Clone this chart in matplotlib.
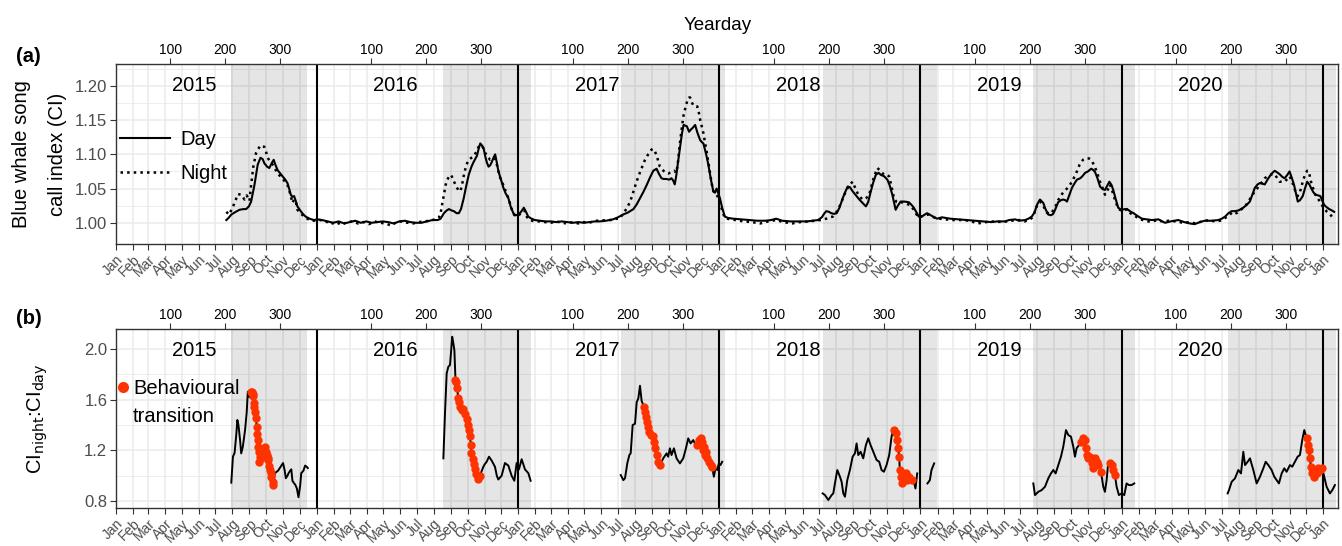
import numpy as np
import pandas as pd
import matplotlib
matplotlib.use('Agg')
import matplotlib.pyplot as plt
import matplotlib.transforms as mtransforms
from matplotlib.lines import Line2D

plt.rcParams['font.family'] = ['Liberation Sans', 'DejaVu Sans']

# x values are days since 2015-01-01
ORIGIN = pd.Timestamp('2015-01-01')

# (a) call index, day
day_series = [
    (201, 1.004), (205, 1.007), (210, 1.012), (218, 1.016), (225, 1.019), (232, 1.020), (237, 1.020),
    (242, 1.024), (246, 1.031), (252, 1.055), (258, 1.085), (263, 1.095), (267, 1.093), (270, 1.087),
    (275, 1.082), (279, 1.080), (284, 1.088), (287, 1.092), (290, 1.085), (294, 1.077), (298, 1.073),
    (303, 1.068), (308, 1.063), (312, 1.058), (315, 1.050), (318, 1.041), (321, 1.038), (324, 1.039),
    (327, 1.032), (330, 1.024), (336, 1.017), (340, 1.013), (345, 1.009), (352, 1.006), (360, 1.004),
    (366, 1.005), (375, 1.004), (385, 1.002), (395, 1.000), (405, 1.002), (415, 0.999), (425, 1.001),
    (435, 1.003), (445, 1.000), (455, 1.002), (465, 1.000), (475, 1.001), (485, 1.002), (495, 1.001),
    (505, 0.999), (515, 1.002), (525, 1.003), (535, 1.001), (545, 1.000), (555, 1.000), (565, 1.002),
    (575, 1.004), (585, 1.004), (590, 1.006), (596, 1.014), (601, 1.018), (605, 1.020), (610, 1.018),
    (614, 1.017), (619, 1.014), (623, 1.014), (627, 1.020), (632, 1.036), (636, 1.052), (641, 1.070),
    (646, 1.082), (650, 1.089), (656, 1.098), (659, 1.108), (662, 1.116), (665, 1.113), (668, 1.109),
    (671, 1.097), (674, 1.088), (677, 1.082), (680, 1.084), (683, 1.089), (686, 1.095), (689, 1.100),
    (692, 1.088), (695, 1.075), (700, 1.062), (704, 1.051), (708, 1.043), (713, 1.036), (717, 1.024),
    (722, 1.014), (726, 1.011), (731, 1.012), (736, 1.016), (741, 1.022), (745, 1.016), (749, 1.009),
    (755, 1.006), (761, 1.004), (770, 1.003),
    (780, 1.002), (790, 1.002), (800, 1.001), (810, 1.002), (820, 1.001), (830, 1.000), (840, 1.001),
    (850, 1.000), (860, 1.001), (870, 1.002), (879, 1.002), (890, 1.003), (903, 1.005), (912, 1.008),
    (921, 1.012), (930, 1.015), (940, 1.020), (946, 1.027), (952, 1.036), (958, 1.045), (964, 1.055),
    (970, 1.066), (976, 1.076), (982, 1.079), (986, 1.072), (991, 1.065), (995, 1.064), (1000, 1.064),
    (1005, 1.063), (1009, 1.065), (1012, 1.062), (1015, 1.056), (1018, 1.070), (1021, 1.089),
    (1025, 1.112), (1028, 1.130), (1031, 1.143), (1034, 1.142), (1037, 1.141), (1041, 1.133),
    (1044, 1.136), (1048, 1.139), (1052, 1.143), (1056, 1.132), (1061, 1.121), (1064, 1.118),
    (1067, 1.116), (1072, 1.100), (1076, 1.085), (1080, 1.066), (1085, 1.046), (1088, 1.044),
    (1091, 1.050), (1094, 1.043), (1097, 1.036), (1101, 1.022), (1106, 1.009), (1112, 1.007),
    (1121, 1.006),
    (1135, 1.005), (1151, 1.004), (1165, 1.003), (1180, 1.003), (1190, 1.004), (1199, 1.006),
    (1210, 1.003), (1225, 1.002), (1242, 1.002), (1255, 1.002), (1265, 1.003), (1275, 1.004),
    (1282, 1.008), (1286, 1.013), (1290, 1.017), (1295, 1.016), (1299, 1.014), (1304, 1.013),
    (1309, 1.014), (1314, 1.022), (1320, 1.036), (1325, 1.046), (1329, 1.053), (1333, 1.052),
    (1338, 1.046), (1344, 1.040), (1350, 1.034), (1356, 1.029), (1362, 1.024), (1366, 1.030),
    (1371, 1.046), (1375, 1.058), (1380, 1.070), (1385, 1.073), (1389, 1.070), (1395, 1.068),
    (1401, 1.063), (1405, 1.055), (1410, 1.041), (1413, 1.030), (1416, 1.019), (1420, 1.025),
    (1425, 1.031), (1432, 1.031), (1440, 1.030), (1445, 1.026), (1449, 1.022), (1454, 1.015),
    (1458, 1.009), (1465, 1.010), (1473, 1.014), (1482, 1.010), (1491, 1.006),
    (1500, 1.008), (1515, 1.006), (1530, 1.005), (1545, 1.004), (1560, 1.003), (1575, 1.002),
    (1590, 1.001), (1600, 1.002), (1614, 1.002), (1622, 1.004), (1633, 1.005), (1640, 1.003),
    (1651, 1.004), (1657, 1.006), (1663, 1.009), (1668, 1.015), (1673, 1.027), (1678, 1.034),
    (1684, 1.029), (1688, 1.020), (1693, 1.012), (1698, 1.011), (1702, 1.013), (1706, 1.020),
    (1711, 1.030), (1716, 1.033), (1720, 1.034), (1724, 1.033), (1727, 1.031), (1732, 1.042),
    (1736, 1.051), (1741, 1.058), (1745, 1.063), (1751, 1.065), (1755, 1.068), (1760, 1.073),
    (1765, 1.075), (1771, 1.079), (1775, 1.077), (1778, 1.074), (1782, 1.066), (1787, 1.053),
    (1792, 1.049), (1796, 1.048), (1800, 1.054), (1804, 1.060), (1808, 1.055), (1811, 1.048),
    (1815, 1.036), (1820, 1.022), (1826, 1.019), (1832, 1.020), (1838, 1.019), (1843, 1.016),
    (1848, 1.014), (1855, 1.010), (1863, 1.006), (1872, 1.005), (1881, 1.004), (1893, 1.005),
    (1905, 1.000), (1915, 1.002), (1929, 1.004), (1940, 1.001), (1950, 0.999), (1959, 0.998),
    (1968, 1.001), (1977, 1.003), (1990, 1.003), (2002, 1.004), (2008, 1.006), (2014, 1.009),
    (2020, 1.014), (2026, 1.017), (2032, 1.017), (2038, 1.018), (2043, 1.020), (2047, 1.022),
    (2053, 1.026), (2059, 1.031), (2064, 1.042), (2068, 1.051), (2073, 1.056), (2077, 1.058),
    (2082, 1.057), (2086, 1.056), (2091, 1.063), (2095, 1.068), (2100, 1.073), (2104, 1.076),
    (2108, 1.074), (2113, 1.071), (2118, 1.067), (2122, 1.065), (2127, 1.070), (2131, 1.075),
    (2135, 1.066), (2139, 1.056), (2143, 1.042), (2146, 1.031), (2150, 1.033), (2155, 1.039),
    (2159, 1.050), (2163, 1.060), (2167, 1.056), (2170, 1.051), (2174, 1.045), (2178, 1.041),
    (2183, 1.040), (2187, 1.039), (2190, 1.033), (2194, 1.026), (2198, 1.023), (2203, 1.020),
    (2208, 1.018), (2212, 1.016),
]

# (a) call index, night
night_series = [
    (201, 1.016), (206, 1.012), (211, 1.020), (216, 1.029), (222, 1.042), (228, 1.041), (234, 1.034),
    (238, 1.040), (243, 1.032), (246, 1.055), (250, 1.082), (255, 1.102), (259, 1.108), (263, 1.113),
    (267, 1.112), (270, 1.111), (273, 1.104), (276, 1.095), (280, 1.090), (285, 1.085), (290, 1.078),
    (294, 1.072), (299, 1.068), (303, 1.064), (308, 1.060), (312, 1.055), (316, 1.045), (321, 1.029),
    (324, 1.034), (327, 1.031), (330, 1.019), (336, 1.014), (342, 1.009), (350, 1.005), (360, 1.003),
    (370, 1.004), (380, 1.003), (390, 0.998), (400, 1.001), (410, 0.997), (420, 1.001), (430, 1.002),
    (440, 0.999), (450, 1.001), (460, 0.998), (470, 1.002), (480, 1.000), (490, 0.999), (500, 0.996),
    (510, 1.001), (520, 1.002), (530, 1.000), (540, 0.999), (550, 1.001), (560, 1.002), (570, 1.003),
    (580, 1.005), (587, 1.008), (590, 1.014), (593, 1.028), (596, 1.041), (599, 1.055), (602, 1.063),
    (606, 1.068), (609, 1.070), (613, 1.063), (617, 1.055), (622, 1.048), (626, 1.046), (630, 1.060),
    (633, 1.073), (637, 1.085), (641, 1.092), (646, 1.095), (650, 1.097), (655, 1.104), (659, 1.111),
    (662, 1.113), (665, 1.113), (668, 1.108), (671, 1.102), (676, 1.096), (680, 1.092), (685, 1.093),
    (689, 1.094), (693, 1.082), (697, 1.068), (701, 1.060), (704, 1.055), (709, 1.044), (714, 1.034),
    (718, 1.022), (723, 1.012), (728, 1.009), (733, 1.012), (738, 1.015), (742, 1.018), (747, 1.008),
    (752, 1.004), (760, 1.002), (770, 1.002),
    (780, 1.001), (790, 1.000), (800, 1.002), (810, 1.000), (820, 0.999), (830, 1.001), (840, 0.999),
    (850, 1.001), (860, 1.000), (870, 1.003), (880, 1.003), (890, 1.004), (900, 1.004), (910, 1.006),
    (915, 1.006), (921, 1.013), (927, 1.020), (933, 1.029), (938, 1.040), (942, 1.051), (947, 1.063),
    (952, 1.074), (957, 1.084), (961, 1.092), (966, 1.099), (970, 1.104), (973, 1.107), (976, 1.108),
    (979, 1.104), (982, 1.099), (985, 1.090), (988, 1.082), (992, 1.078), (997, 1.074), (1003, 1.072),
    (1009, 1.074), (1014, 1.076), (1018, 1.073), (1021, 1.090), (1024, 1.114), (1028, 1.140),
    (1031, 1.157), (1035, 1.170), (1038, 1.179), (1041, 1.183), (1043, 1.183), (1046, 1.176),
    (1049, 1.171), (1053, 1.170), (1056, 1.170), (1059, 1.160), (1061, 1.151), (1064, 1.141),
    (1067, 1.131), (1070, 1.117), (1073, 1.104), (1076, 1.088), (1079, 1.073), (1082, 1.058),
    (1085, 1.046), (1089, 1.044), (1093, 1.038), (1097, 1.030), (1101, 1.018), (1106, 1.007),
    (1115, 1.005), (1125, 1.004),
    (1140, 1.002), (1155, 1.001), (1170, 0.999), (1185, 1.002), (1199, 1.004), (1212, 1.001),
    (1228, 0.999), (1242, 1.001), (1258, 1.002), (1270, 1.003), (1280, 1.004), (1285, 1.005),
    (1290, 1.006), (1296, 1.008), (1302, 1.009), (1308, 1.015), (1313, 1.022), (1317, 1.029),
    (1321, 1.037), (1325, 1.045), (1329, 1.051), (1333, 1.056), (1338, 1.060), (1342, 1.052),
    (1347, 1.043), (1351, 1.038), (1356, 1.034), (1362, 1.036), (1367, 1.039), (1371, 1.050),
    (1374, 1.060), (1378, 1.070), (1383, 1.080), (1388, 1.076), (1395, 1.070), (1400, 1.070),
    (1404, 1.068), (1408, 1.055), (1413, 1.036), (1418, 1.030), (1422, 1.029), (1428, 1.030),
    (1435, 1.028), (1442, 1.026), (1448, 1.020), (1454, 1.012), (1460, 1.008), (1468, 1.011),
    (1476, 1.012), (1485, 1.008), (1495, 1.006),
    (1505, 1.005), (1520, 1.004), (1535, 1.004), (1550, 1.003), (1565, 0.999), (1580, 1.001),
    (1595, 1.002), (1610, 1.001), (1625, 1.003), (1640, 1.004), (1650, 1.002), (1658, 1.004),
    (1665, 1.008), (1672, 1.024), (1678, 1.031), (1684, 1.025), (1690, 1.015), (1697, 1.013),
    (1704, 1.020), (1711, 1.033), (1717, 1.041), (1722, 1.046), (1727, 1.050), (1732, 1.055),
    (1736, 1.060), (1741, 1.068), (1745, 1.075), (1750, 1.085), (1756, 1.092), (1760, 1.094),
    (1763, 1.094), (1767, 1.094), (1771, 1.092), (1775, 1.086), (1778, 1.081), (1783, 1.070),
    (1787, 1.060), (1792, 1.050), (1796, 1.041), (1800, 1.046), (1805, 1.056), (1809, 1.047),
    (1814, 1.034), (1818, 1.025), (1823, 1.019), (1829, 1.017), (1836, 1.020), (1842, 1.014),
    (1850, 1.010), (1860, 1.005), (1870, 1.003), (1880, 1.001), (1890, 1.004), (1900, 1.002),
    (1912, 1.003), (1925, 1.002), (1938, 1.000), (1950, 1.001), (1960, 0.999), (1972, 1.002),
    (1985, 1.004), (1995, 1.002), (2005, 1.003), (2012, 1.006), (2020, 1.010), (2028, 1.016),
    (2035, 1.014), (2042, 1.019), (2048, 1.022), (2054, 1.028), (2060, 1.036), (2064, 1.041),
    (2068, 1.046), (2073, 1.051), (2077, 1.056), (2082, 1.060), (2086, 1.065), (2091, 1.068),
    (2095, 1.070), (2100, 1.071), (2104, 1.071), (2108, 1.066), (2113, 1.060), (2118, 1.060),
    (2122, 1.060), (2127, 1.064), (2131, 1.068), (2135, 1.062), (2139, 1.052), (2143, 1.043),
    (2146, 1.039), (2150, 1.045), (2155, 1.060), (2159, 1.070), (2163, 1.076), (2166, 1.075),
    (2170, 1.060), (2174, 1.050), (2178, 1.041), (2183, 1.035), (2188, 1.028), (2193, 1.022),
    (2199, 1.016), (2204, 1.013), (2208, 1.009), (2212, 1.006),
]

# (b) CI night : CI day ratio (nan = gap between seasons)
ratio_series = [
    (210, 0.945), (213, 1.150), (216, 1.180), (219, 1.320), (221, 1.440), (223, 1.400), (226, 1.280),
    (228, 1.176), (231, 1.230), (235, 1.360), (238, 1.500), (240, 1.663), (243, 1.620), (245, 1.660),
    (247, 1.663), (249, 1.645), (250, 1.630), (251, 1.571), (252, 1.540), (253, 1.505), (255, 1.453),
    (256, 1.387), (257, 1.330), (258, 1.282), (259, 1.229), (260, 1.190), (261, 1.110), (262, 1.150),
    (264, 1.140), (266, 1.180), (268, 1.177), (270, 1.215), (271, 1.229), (273, 1.190), (274, 1.163),
    (276, 1.140), (277, 1.124), (279, 1.080), (280, 1.045), (282, 1.020), (283, 0.992), (285, 0.950),
    (286, 0.926), (289, 1.018), (292, 1.030), (295, 1.040), (298, 1.060), (301, 1.080), (304, 1.100),
    (307, 1.040), (309, 0.980), (312, 1.000), (314, 1.020), (317, 1.040), (319, 1.050), (321, 0.960),
    (324, 0.940), (326, 0.930), (329, 0.900), (332, 0.830), (335, 0.920), (337, 1.020), (341, 1.040),
    (344, 1.080), (347, 1.070), (349, 1.060), (352, np.nan),
    (595, 1.137), (598, 1.500), (601, 1.808), (604, 1.860), (607, 1.874), (609, 1.980), (611, 2.097),
    (613, 2.050), (615, 1.990), (617, 1.755), (618, 1.740), (620, 1.690), (622, 1.610), (624, 1.585),
    (626, 1.545), (629, 1.520), (631, 1.530), (634, 1.490), (637, 1.450), (639, 1.400), (641.5, 1.360),
    (643, 1.310), (645, 1.245), (646, 1.180), (648, 1.130), (650.5, 1.090), (652, 1.050), (655, 1.010),
    (658, 0.970), (661, 0.997), (664, 1.030), (667.5, 1.070), (670, 1.090), (673.6, 1.110),
    (677.8, 1.150), (682.6, 1.120), (688.7, 1.070), (692, 1.000), (694.7, 0.970), (700.8, 1.000),
    (706.8, 1.100), (712.9, 1.080), (718.9, 1.000), (723.8, 0.960), (728, 1.100), (732.2, 1.050),
    (737.1, 1.130), (743.1, 1.050), (749.2, 1.020), (753.4, 0.960), (756, np.nan),
    (917, 1.005), (921.7, 0.965), (924.7, 0.980), (929, 1.100), (932.6, 1.163), (935, 1.176),
    (938.6, 1.400), (942.9, 1.410), (945.9, 1.580), (948.9, 1.610), (951.9, 1.710), (954.9, 1.590),
    (956.7, 1.570), (959.1, 1.539), (960.9, 1.505), (962.7, 1.466), (963.9, 1.426), (965.7, 1.387),
    (968.2, 1.347), (971.2, 1.321), (974.8, 1.313), (977.2, 1.268), (979, 1.216), (982.1, 1.163),
    (985.1, 1.110), (988.1, 1.084), (994.1, 1.137), (1000.2, 1.176), (1003, 1.150), (1006.2, 1.216),
    (1009.2, 1.163), (1013.5, 1.216), (1018.3, 1.137), (1024.4, 1.097), (1030.4, 1.137),
    (1035.3, 1.216), (1039.5, 1.295), (1043.7, 1.255), (1048.6, 1.281), (1052, 1.250),
    (1055.8, 1.242), (1058.8, 1.281), (1061.9, 1.295), (1064.9, 1.268), (1066.7, 1.200),
    (1067.9, 1.229), (1069.1, 1.163), (1071.5, 1.189), (1074, 1.137), (1077, 1.110), (1080, 1.084),
    (1083, 1.071), (1086, 0.992), (1089, 1.058), (1092.1, 1.045), (1095.1, 1.097), (1098.1, 1.084),
    (1101.1, 1.110), (1104, np.nan),
    (1283.5, 0.860), (1287.7, 0.847), (1293.8, 0.808), (1299.8, 0.847), (1302.8, 0.860),
    (1305.8, 0.939), (1310.1, 1.045), (1314.9, 0.992), (1317.9, 0.952), (1321, 0.860), (1324, 0.834),
    (1328.2, 0.965), (1333, 1.045), (1337.9, 1.150), (1342.1, 1.176), (1345.1, 1.255),
    (1348.1, 1.163), (1352.4, 1.189), (1357.2, 1.137), (1362, 1.242), (1366.3, 1.295),
    (1370.5, 1.242), (1375.3, 1.189), (1381.4, 1.124), (1386.2, 1.110), (1390.4, 1.045),
    (1394.7, 1.031), (1399.5, 1.084), (1404.3, 1.163), (1408.6, 1.308), (1411.6, 1.360),
    (1413.4, 1.360), (1416.4, 1.334), (1418.8, 1.281), (1420.6, 1.216), (1422.4, 1.150),
    (1423.6, 1.045), (1425.5, 0.992), (1427.9, 0.939), (1430.9, 0.979), (1434.5, 1.018),
    (1436.9, 0.965), (1440.6, 0.992), (1444.8, 0.965), (1449, 0.952), (1452, 0.899), (1455.1, 1.018),
    (1460, np.nan), (1473.8, 0.939), (1478.1, 0.965), (1481.1, 1.045), (1485.9, 1.097), (1490, np.nan),
    (1665.9, 0.939), (1668.9, 0.847), (1675, 0.873), (1681, 0.886), (1687.1, 0.913), (1693.1, 0.979),
    (1697.9, 1.018), (1702.2, 1.045), (1706.4, 1.018), (1711.3, 1.084), (1716.1, 1.150),
    (1720.3, 1.229), (1725.2, 1.360), (1729.4, 1.321), (1734.3, 1.308), (1738.5, 1.229),
    (1741.5, 1.150), (1744.5, 1.216), (1748.8, 1.242), (1752.4, 1.268), (1756.6, 1.295),
    (1759.7, 1.281), (1760.9, 1.216), (1762.7, 1.163), (1765.7, 1.137), (1768.7, 1.150),
    (1771.7, 1.097), (1774.8, 1.058), (1777.8, 1.137), (1780.8, 1.110), (1783.8, 1.084),
    (1788.7, 1.031), (1792.9, 0.913), (1795.9, 0.873), (1799, 0.965), (1802, 1.110), (1805, 1.097),
    (1808, 1.084), (1811, 1.045), (1814.1, 1.005), (1817.1, 0.913), (1821.3, 0.847), (1826.2, 0.860),
    (1831, 0.847), (1835.2, 0.939), (1839.4, 0.926), (1844.3, 0.926), (1849.1, 0.939), (1852, np.nan),
    (2018.7, 0.860), (2021.1, 0.886), (2026, 0.952), (2032, 0.979), (2038.1, 1.045), (2042.9, 1.018),
    (2047.1, 1.189), (2050.2, 1.084), (2055, 1.110), (2059.2, 1.137), (2065.3, 1.045),
    (2071.3, 0.939), (2077.4, 0.992), (2083.4, 1.058), (2087.7, 1.110), (2092.5, 1.084),
    (2098.5, 1.045), (2103.3, 0.992), (2107.6, 0.965), (2111.8, 0.939), (2116.7, 1.018),
    (2121.5, 1.058), (2125.7, 1.031), (2131.8, 1.084), (2136, 1.071), (2140.8, 1.110),
    (2145.7, 1.150), (2149.9, 1.163), (2154.1, 1.281), (2157.8, 1.360), (2162, 1.295), (2165, 1.242),
    (2166.2, 1.203), (2168, 1.137), (2169.9, 1.071), (2172.3, 1.018), (2175.9, 0.992),
    (2180.1, 1.018), (2183.2, 1.058), (2186.2, 1.045), (2190.4, 1.058), (2194, 0.992),
    (2198.3, 0.913), (2204.3, 0.860), (2208.6, 0.886), (2213.4, 0.926),
]

# behavioural transition windows (days since 2015-01-01)
trans_start = [245, 617, 959, 1055, 1413, 1752, 1804, 2161]
trans_end = [286, 661, 988.5, 1083.5, 1445, 1789, 1815, 2191]

# shaded seasons
shade_start = [209.5, 594.5, 917, 1283.5, 1666, 2019]
shade_end = [348, 754, 1106, 1491, 1850, 2215]

years = [2015, 2016, 2017, 2018, 2019, 2020]
yeardays = [100, 200, 300]

day_x, day_ci = np.array(day_series).T
night_x, night_ci = np.array(night_series).T
ratio_x, ratio_val = np.array(ratio_series).T

in_trans = np.zeros(len(ratio_x), dtype=bool)
for s, e in zip(trans_start, trans_end):
    in_trans |= (ratio_x >= s) & (ratio_x <= e) & ~np.isnan(ratio_val)

months = pd.date_range('2015-01-01', '2021-01-01', freq='MS')
month_pos = np.array((months - ORIGIN).days)
month_lab = list(months.strftime('%b'))
year_starts = np.array([(pd.Timestamp(f'{y}-01-01') - ORIGIN).days for y in years + [2021]])
top_pos = [ys + d - 1 for ys in year_starts[:-1] for d in yeardays]
top_lab = [str(d) for ys in year_starts[:-1] for d in yeardays]

RED = '#FF3300'
GREY_TXT = '#4D4D4D'
W, H = 1342, 546

fig = plt.figure(figsize=(W / 100, H / 100), dpi=100)
ax_a = fig.add_axes([115.6 / W, (H - 244) / H, (1338 - 115.6) / W, 180 / H])
ax_b = fig.add_axes([115.6 / W, (H - 508) / H, (1338 - 115.6) / W, 179 / H])


def style_axis(ax, ylim, major, minor, fmt):
    ax.set_xlim(0, 2219)
    ax.set_ylim(*ylim)
    ax.set_axisbelow(True)
    ax.set_xticks(month_pos)
    ax.set_xticklabels(month_lab, rotation=45, ha='right', rotation_mode='anchor')
    ax.set_yticks(major)
    ax.set_yticklabels([fmt.format(v) for v in major])
    ax.set_yticks(minor, minor=True)
    ax.grid(True, which='major', color='#EBEBEB', lw=1.1)
    ax.grid(True, which='minor', axis='y', color='#EBEBEB', lw=0.6)
    ax.tick_params(axis='x', which='major', length=4, width=0.8, color='#333333',
                   labelsize=10, labelcolor=GREY_TXT, pad=2)
    ax.tick_params(axis='y', which='major', length=4, width=0.8, color='#333333',
                   labelsize=12, labelcolor=GREY_TXT, pad=2)
    ax.tick_params(axis='y', which='minor', length=0)
    for sp in ax.spines.values():
        sp.set_color('#333333')
        sp.set_linewidth(1.0)
    for s, e in zip(shade_start, shade_end):
        ax.axvspan(s, e, color='black', alpha=0.1, lw=0, zorder=1)
    for ys in year_starts[1:]:
        ax.axvline(ys, color='black', lw=1.5, zorder=2)
    sec = ax.secondary_xaxis('top')
    sec.set_xticks(top_pos)
    sec.set_xticklabels(top_lab)
    sec.tick_params(length=4, width=0.8, color='#333333', labelsize=10, pad=1)
    sec.spines['top'].set_visible(False)
    trans = mtransforms.blended_transform_factory(ax.transData, ax.transAxes)
    for y, ys in zip(years, year_starts[:-1]):
        ax.text(ys + 143, 0.88, str(y), transform=trans, ha='center', va='center',
                fontsize=14.5, zorder=5)
    return sec


style_axis(ax_a, (0.969, 1.232), [1.00, 1.05, 1.10, 1.15, 1.20],
           [1.025, 1.075, 1.125, 1.175, 1.225], '{:.2f}')
style_axis(ax_b, (0.745, 2.158), [0.8, 1.2, 1.6, 2.0], [1.0, 1.4, 1.8], '{:.1f}')
fig.text(718 / W, 1 - 25 / H, 'Yearday', fontsize=13.5, ha='center', va='center')

ax_a.plot(day_x, day_ci, color='black', lw=1.5, zorder=3, label='Day')
ax_a.plot(night_x, night_ci, color='black', lw=1.8, ls=':', zorder=3, label='Night')
ax_a.legend(loc='upper left', bbox_to_anchor=(0.004, 0.632), frameon=False, fontsize=14.5,
            handlelength=2.45, handletextpad=0.5, labelspacing=0.75, borderpad=0, borderaxespad=0)
ax_a.set_ylabel('Blue whale song\ncall index (CI)', fontsize=14.5, linespacing=2.1)
ax_a.yaxis.set_label_coords(-0.040, 0.5)

ax_b.plot(ratio_x, ratio_val, color='black', lw=1.4, zorder=3)
ax_b.plot(ratio_x[in_trans], ratio_val[in_trans], 'o', color=RED, ms=6, mew=0, zorder=4)
h_red = Line2D([], [], marker='o', ls='none', color=RED, ms=8, mew=0)
h_none = Line2D([], [], ls='none', marker='none')
ax_b.legend([h_red, h_none], ['Behavioural', 'transition'], loc='upper left',
            bbox_to_anchor=(0.002, 0.718), frameon=False, fontsize=14.5,
            handlelength=0.5, handletextpad=0.25, labelspacing=0.4, borderpad=0, borderaxespad=0)
ax_b.set_ylabel('CI$_{\\mathrm{night}}$:CI$_{\\mathrm{day}}$', fontsize=14.5)
ax_b.yaxis.set_label_coords(-0.054, 0.5)

fig.text(16 / W, 1 - 57 / H, '(a)', fontsize=14.5, fontweight='bold', va='center', ha='left')
fig.text(16 / W, 1 - 318 / H, '(b)', fontsize=14.5, fontweight='bold', va='center', ha='left')

fig.savefig('out.png', dpi=100)
